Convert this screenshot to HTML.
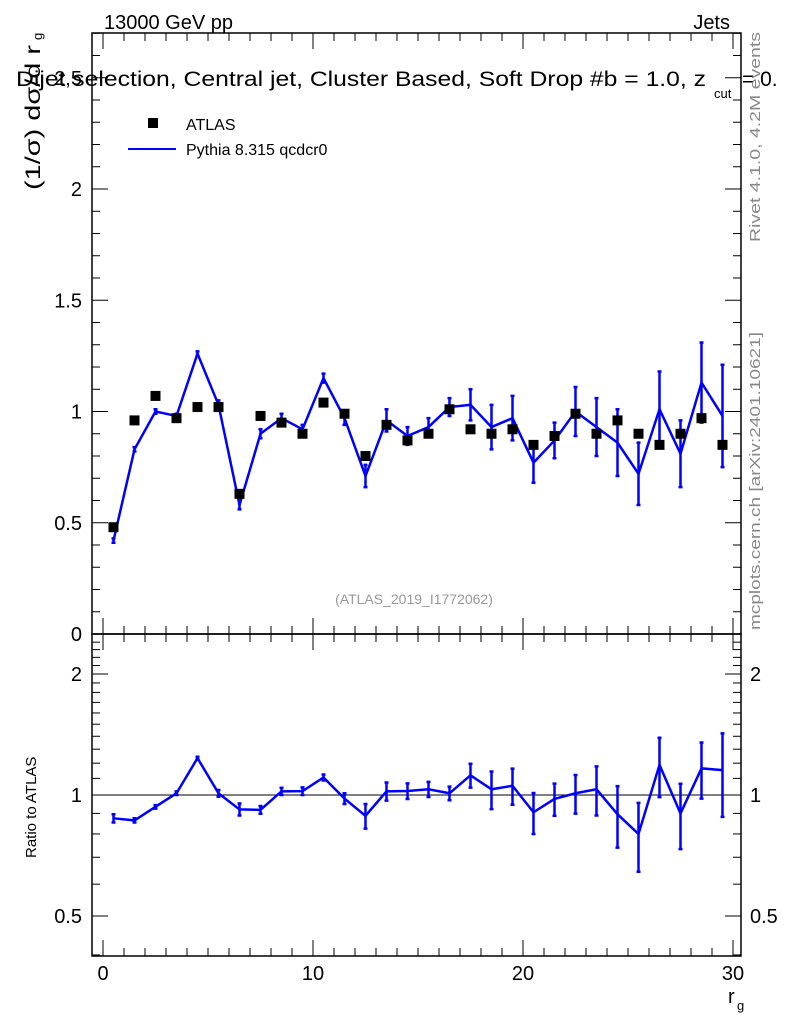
<!DOCTYPE html>
<html><head><meta charset="utf-8"><style>
html,body{margin:0;padding:0;background:#fff;}
svg{display:block;font-family:"Liberation Sans","DejaVu Sans",sans-serif;}
</style></head><body>
<svg id="chart" width="786" height="1024" xmlns="http://www.w3.org/2000/svg">
<g id="axes"></g>
<g id="marks"></g>
<text x="104" y="29" font-size="20">13000 GeV pp</text>
<text x="730" y="29" font-size="20" text-anchor="end">Jets</text>
<text x="16" y="86" font-size="21" textLength="690" lengthAdjust="spacingAndGlyphs">Dijet selection, Central jet, Cluster Based, Soft Drop #b = 1.0, z</text>
<text x="714" y="98" font-size="13">cut</text>
<text x="742" y="86" font-size="21">= 0.</text>
<g>
<rect x="148" y="118" width="10" height="10" fill="#000"/>
<text x="186" y="130" font-size="16">ATLAS</text>
<line x1="128" y1="149" x2="176" y2="149" stroke="#00f" stroke-width="2"/>
<text x="186" y="155" font-size="16">Pythia 8.315 qcdcr0</text>
</g>
<text x="414" y="604" font-size="14" fill="#999" text-anchor="middle">(ATLAS_2019_I1772062)</text>
<text transform="translate(760,242) rotate(-90)" font-size="15" fill="#888" textLength="210" lengthAdjust="spacingAndGlyphs">Rivet 4.1.0,  4.2M events</text>
<text transform="translate(760,630) rotate(-90)" font-size="15" fill="#888" textLength="298" lengthAdjust="spacingAndGlyphs">mcplots.cern.ch [arXiv:2401.10621]</text>
<text transform="translate(40,190) rotate(-90)" font-size="21" textLength="145" lengthAdjust="spacingAndGlyphs">(1/σ) dσ/d r</text>
<text transform="translate(42,40) rotate(-90)" font-size="13">g</text>
<text transform="translate(36,858) rotate(-90)" font-size="15">Ratio to ATLAS</text>
<text x="728" y="1003" font-size="20">r</text>
<text x="737" y="1010" font-size="13">g</text>
</svg>
<script>
const xCenters=[0.5,1.5,2.5,3.5,4.5,5.5,6.5,7.5,8.5,9.5,10.5,11.5,12.5,13.5,14.5,15.5,16.5,17.5,18.5,19.5,20.5,21.5,22.5,23.5,24.5,25.5,26.5,27.5,28.5,29.5];
const atlasVals=[0.48,0.96,1.07,0.97,1.02,1.02,0.63,0.98,0.95,0.90,1.04,0.99,0.80,0.94,0.87,0.90,1.01,0.92,0.90,0.92,0.85,0.89,0.99,0.90,0.96,0.90,0.85,0.90,0.97,0.85];
const mcVals=[0.42,0.83,1.00,0.98,1.26,1.03,0.58,0.90,0.97,0.92,1.15,0.97,0.71,0.96,0.89,0.93,1.02,1.03,0.93,0.97,0.77,0.87,1.00,0.93,0.86,0.72,1.01,0.81,1.13,0.98];
const mcErr=[0.01,0.01,0.01,0.01,0.01,0.02,0.02,0.02,0.02,0.02,0.02,0.03,0.05,0.05,0.04,0.04,0.04,0.07,0.10,0.10,0.09,0.08,0.11,0.13,0.15,0.14,0.17,0.15,0.18,0.23];
const mainYTicks=[0,0.5,1,1.5,2,2.5];
const mainYLabels=["0","0.5","1","1.5","2","2,5"];
const ratioYTicks=[0.5,1,2];
const xTicks=[0,10,20,30];

const NS="http://www.w3.org/2000/svg";
const L=92,R=741,T=33,MB=634,RB=956;
const X=v=>103+21*v;
const Y=v=>634-222.5*v;
const YR=v=>795-121*Math.log2(v);
const axes=document.getElementById('axes'),marks=document.getElementById('marks');
function mk(p,tag,a){const e=document.createElementNS(NS,tag);for(const k in a)e.setAttribute(k,a[k]);p.appendChild(e);return e;}

let e=mk(axes,'rect',{x:L,y:T,width:R-L,height:MB-T,fill:'none',stroke:'#000','stroke-width':1.5});

e=mk(axes,'rect',{x:L,y:MB,width:R-L,height:RB-MB,fill:'none',stroke:'#000','stroke-width':1.5});

for(let v=0;v<=30;v++){const maj=v%10==0,len=maj?16:8;
 for(const [y0,d] of [[T,1],[MB,-1],[MB,1],[RB,-1]]){e=mk(axes,'line',{x1:X(v),x2:X(v),y1:y0,y2:y0+d*len,stroke:'#000'});
 }}
xTicks.forEach(v=>{e=mk(axes,'text',{x:X(v),y:980,'font-size':20,'text-anchor':'middle'});e.textContent=v;
 });
for(let i=0;i<=27;i++){const v=i*0.1,maj=i%5==0,len=maj?16:8,y=Y(v);if(y<T)continue;
 for(const [x0,d] of [[L,1],[R,-1]]){e=mk(axes,'line',{x1:x0,x2:x0+d*len,y1:y,y2:y,stroke:'#000'});
 }}
mainYTicks.forEach((v,i)=>{e=mk(axes,'text',{x:82,y:Y(v)+7,'font-size':20,'text-anchor':'end'});e.textContent=mainYLabels[i];
 });
for(let i=4;i<=24;i++){const v=i*0.1,maj=(i==5||i==10||i==20),len=maj?16:8,y=YR(v);if(y<MB||y>RB)continue;
 for(const [x0,d] of [[L,1],[R,-1]]){e=mk(axes,'line',{x1:x0,x2:x0+d*len,y1:y,y2:y,stroke:'#000'});
 }}
ratioYTicks.forEach(v=>{for(const [x,a] of [[82,'end'],[750,'start']]){e=mk(axes,'text',{x:x,y:YR(v)+7,'font-size':20,'text-anchor':a});e.textContent=v;
 }});
e=mk(axes,'line',{x1:L,x2:R,y1:YR(1),y2:YR(1),stroke:'#000'});


let pts=xCenters.map((x,i)=>X(x)+','+Y(mcVals[i])).join(' ');
e=mk(marks,'polyline',{points:pts,fill:'none',stroke:'#00f','stroke-width':2.5});

xCenters.forEach((x,i)=>{const y1=Y(mcVals[i]-mcErr[i]),y2=Y(mcVals[i]+mcErr[i]);
 e=mk(marks,'path',{d:`M${X(x)},${y1}V${y2}M${X(x)-2},${y1}h4M${X(x)-2},${y2}h4`,stroke:'#00f','stroke-width':2.5,fill:'none'});
 });
xCenters.forEach((x,i)=>{e=mk(marks,'rect',{x:X(x)-5,y:Y(atlasVals[i])-5,width:10,height:10,fill:'#000'});
 });
pts=xCenters.map((x,i)=>X(x)+','+YR(mcVals[i]/atlasVals[i])).join(' ');
e=mk(marks,'polyline',{points:pts,fill:'none',stroke:'#00f','stroke-width':2.5});

xCenters.forEach((x,i)=>{const r=mcVals[i]/atlasVals[i],er=mcErr[i]/atlasVals[i];
 const y1=YR(r-er),y2=YR(r+er);
 e=mk(marks,'path',{d:`M${X(x)},${y1}V${y2}M${X(x)-2},${y1}h4M${X(x)-2},${y2}h4`,stroke:'#00f','stroke-width':2.5,fill:'none'});
 });
</script>
</body></html>
